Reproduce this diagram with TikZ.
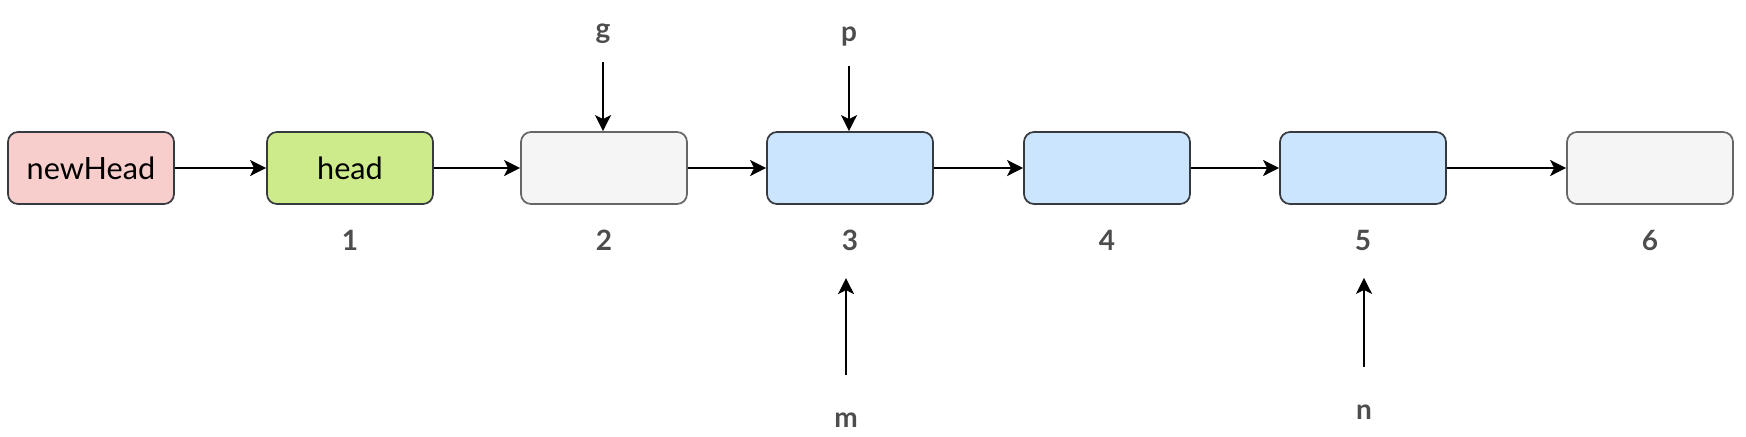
\documentclass[tikz,border=0pt]{standalone}
\usepackage{fontspec}
\setmainfont{Lato}
\usetikzlibrary{positioning,arrows.meta}
\definecolor{redfill}{HTML}{F8CECC}
\definecolor{greenfill}{HTML}{CDEB8B}
\definecolor{greyfill}{HTML}{F5F5F5}
\definecolor{bluefill}{HTML}{CCE5FF}
\definecolor{darkline}{HTML}{36393D}
\definecolor{greyline}{HTML}{666666}
\definecolor{idxgrey}{HTML}{4D4D4D}
\begin{document}
\begin{tikzpicture}[x=0.75pt,y=-0.75pt,box/.style={draw=darkline, line width=1.3pt, rounded corners=7.5pt, minimum width=124.5pt, minimum height=54pt, inner sep=0pt, font=\fontsize{23}{27}\selectfont},idx/.style={text=idxgrey, inner sep=0pt, font=\fontsize{21}{25}\selectfont\bfseries},link/.style={-{Stealth[length=12pt,width=12pt,inset=3pt]}, line width=1.4pt}]
\useasboundingbox (0,0) rectangle (1746,436);
\node[box, fill=redfill] (newhead) at (91,168) {newHead};
\node[box, fill=greenfill] (n1) at (350,168) {head};
\node[box, fill=greyfill, draw=greyline] (n2) at (604,168) {};
\node[box, fill=bluefill] (n3) at (850,168) {};
\node[box, fill=bluefill] (n4) at (1107,168) {};
\node[box, fill=bluefill] (n5) at (1363,168) {};
\node[box, fill=greyfill, draw=greyline] (n6) at (1650,168) {};
\foreach \i in {1,...,6} \node[idx, below=19pt of n\i] (i\i) {\i};
\node[idx, anchor=base] (g) at (603,38) {g};
\node[idx, anchor=base] (p) at (849,41) {p};
\node[idx, anchor=base] (m) at (846,427) {m};
\node[idx, anchor=base] (n) at (1364,419) {n};
\draw[link] (newhead) -- (n1);
\foreach \a/\b in {1/2,2/3,3/4,4/5,5/6} \draw[link] (n\a) -- (n\b);
\draw[link, shorten <=14pt] (g.south) -- (g.south |- n2.north);
\draw[link, shorten <=15pt] (p.south) -- (p.south |- n3.north);
\draw[link, shorten <=28pt, shorten >=20pt] (m.north) -- (m.north |- i3.south);
\draw[link, shorten <=28pt, shorten >=20pt] (n.north) -- (n.north |- i5.south);
\end{tikzpicture}
\end{document}
